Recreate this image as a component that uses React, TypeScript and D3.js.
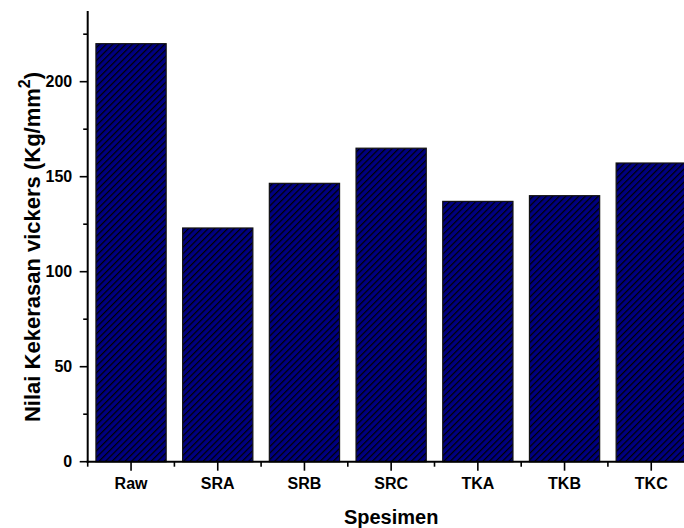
import React, { useEffect, useRef } from "react";
import * as d3 from "d3";

// specimen names and hardness values (Kg/mm2)
const categories = ["Raw", "SRA", "SRB", "SRC", "TKA", "TKB", "TKC"];
const hardness = [220, 123, 146.5, 165, 137, 140, 157.2];
const yTicks = [0, 50, 100, 150, 200];
const yMinorTicks = [25, 75, 125, 175, 225];

const W = 684;
const H = 528;

export default function App() {
  const ref = useRef<SVGSVGElement>(null);

  useEffect(() => {
    if (!ref.current) return;
    const svg = d3.select(ref.current);
    svg.selectAll("*").remove();

    const left = 87.7;
    const bottom = 461.7;
    const top = 11;
    const font = "Arial, 'Liberation Sans', sans-serif";

    const x = d3
      .scaleBand()
      .domain(categories)
      .range([left, left + 86.7 * categories.length])
      .paddingInner(0.19)
      .paddingOuter(0.095);

    const y = d3.scaleLinear().domain([0, 237.2]).range([bottom, top]);

    // hatch pattern
    const defs = svg.append("defs");
    const pat = defs
      .append("pattern")
      .attr("id", "hatch")
      .attr("patternUnits", "userSpaceOnUse")
      .attr("width", 4.6)
      .attr("height", 10)
      .attr("patternTransform", "rotate(45)");
    pat.append("rect").attr("width", 4.6).attr("height", 10).attr("fill", "#000080");
    pat
      .append("line")
      .attr("x1", 0.6)
      .attr("x2", 0.6)
      .attr("y1", 0)
      .attr("y2", 10)
      .attr("stroke", "#000")
      .attr("stroke-width", 1.2);

    // bars
    svg
      .append("g")
      .selectAll("rect")
      .data(categories)
      .join("rect")
      .attr("x", (d) => x(d)!)
      .attr("y", (d, i) => y(hardness[i]))
      .attr("width", x.bandwidth())
      .attr("height", (d, i) => y(0) - y(hardness[i]))
      .attr("fill", "url(#hatch)")
      .attr("stroke", "#111")
      .attr("stroke-width", 1.2);

    const axisColor = "#000";

    // y axis line
    svg
      .append("line")
      .attr("x1", left)
      .attr("x2", left)
      .attr("y1", top)
      .attr("y2", bottom + 1)
      .attr("stroke", axisColor)
      .attr("stroke-width", 2);

    // x axis line
    svg
      .append("line")
      .attr("x1", left - 1)
      .attr("x2", W)
      .attr("y1", bottom)
      .attr("y2", bottom)
      .attr("stroke", axisColor)
      .attr("stroke-width", 2);

    // y ticks
    const gy = svg.append("g");
    gy.selectAll("line.maj")
      .data(yTicks)
      .join("line")
      .attr("class", "maj")
      .attr("x1", left - 8)
      .attr("x2", left)
      .attr("y1", (d) => y(d))
      .attr("y2", (d) => y(d))
      .attr("stroke", axisColor)
      .attr("stroke-width", 1.6);
    gy.selectAll("line.min")
      .data(yMinorTicks)
      .join("line")
      .attr("class", "min")
      .attr("x1", left - 4.5)
      .attr("x2", left)
      .attr("y1", (d) => y(d))
      .attr("y2", (d) => y(d))
      .attr("stroke", axisColor)
      .attr("stroke-width", 1.6);
    gy.selectAll("text")
      .data(yTicks)
      .join("text")
      .attr("x", left - 15.5)
      .attr("y", (d) => y(d))
      .attr("dy", "0.36em")
      .attr("text-anchor", "end")
      .attr("font-family", font)
      .attr("font-weight", "bold")
      .attr("font-size", 16)
      .text((d) => d);

    // x ticks
    const gx = svg.append("g");
    gx.selectAll("line.maj")
      .data(categories)
      .join("line")
      .attr("class", "maj")
      .attr("x1", (d) => x(d)! + x.bandwidth() / 2)
      .attr("x2", (d) => x(d)! + x.bandwidth() / 2)
      .attr("y1", bottom)
      .attr("y2", bottom + 9)
      .attr("stroke", axisColor)
      .attr("stroke-width", 1.6);
    gx.selectAll("line.min")
      .data(categories)
      .join("line")
      .attr("class", "min")
      .attr("x1", (d, i) => left + x.step() * i)
      .attr("x2", (d, i) => left + x.step() * i)
      .attr("y1", bottom)
      .attr("y2", bottom + 5)
      .attr("stroke", axisColor)
      .attr("stroke-width", 1.6);
    gx.selectAll("text")
      .data(categories)
      .join("text")
      .attr("x", (d) => x(d)! + x.bandwidth() / 2)
      .attr("y", 489.3)
      .attr("text-anchor", "middle")
      .attr("font-family", font)
      .attr("font-weight", "bold")
      .attr("font-size", 16)
      .text((d) => d);

    // axis titles
    svg
      .append("text")
      .attr("x", (left + left + 86.7 * categories.length) / 2)
      .attr("y", 524)
      .attr("text-anchor", "middle")
      .attr("font-family", font)
      .attr("font-weight", "bold")
      .attr("font-size", 20)
      .text("Spesimen");

    const yt = svg
      .append("text")
      .attr("transform", `translate(39.5,247) rotate(-90)`)
      .attr("text-anchor", "middle")
      .attr("font-family", font)
      .attr("font-weight", "bold")
      .attr("font-size", 22);
    yt.append("tspan").text("Nilai Kekerasan vickers (Kg/mm");
    yt.append("tspan").attr("dy", -10).attr("font-size", 16).text("2");
    yt.append("tspan").attr("dy", 10).text(")");
  }, []);

  return (
    <svg
      ref={ref}
      width={W}
      height={H}
      style={{ position: "absolute", left: 0, top: 0, background: "#fff" }}
    />
  );
}
